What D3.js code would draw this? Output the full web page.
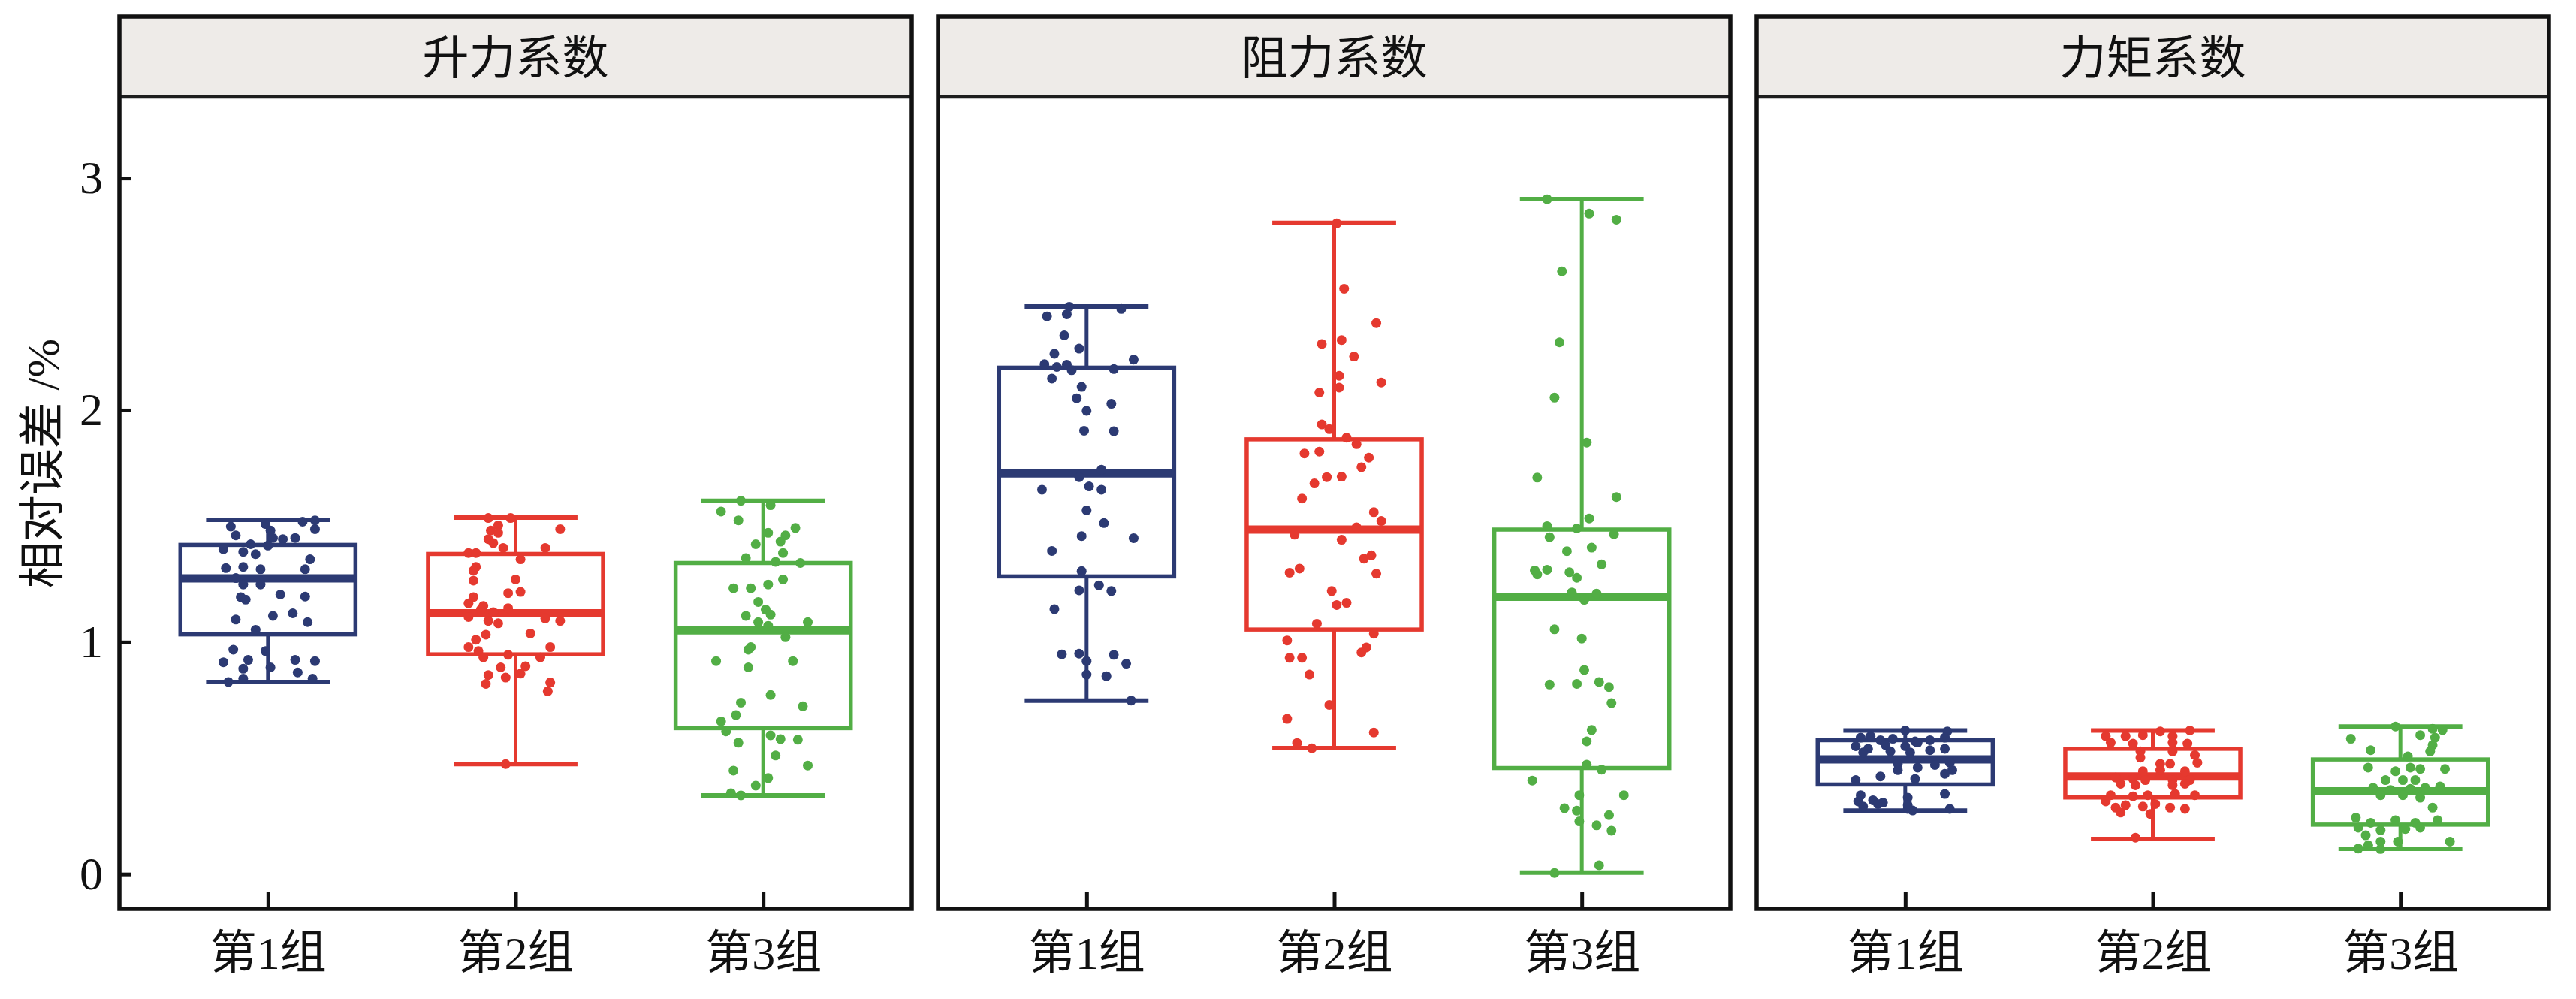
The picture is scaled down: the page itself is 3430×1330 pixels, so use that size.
<!DOCTYPE html>
<html>
<head>
<meta charset="utf-8">
<script src="https://cdn.jsdelivr.net/npm/d3@7"></script>
<style>
  html, body { margin: 0; padding: 0; background: #ffffff; }
  svg { display: block; }
</style>
</head>
<body>
<svg id="chart" width="3430" height="1330"></svg>
<script>
// ---------------- DATA ----------------
const panelTitles = ["升力系数", "阻力系数", "力矩系数"];
const groups = ["第1组", "第2组", "第3组"];
const yTicks = [0, 1, 2, 3];
const yLabel = "相对误差 /%";

// box statistics per panel: [min, q1, median, q3, max] for 第1组, 第2组, 第3组
const liftStats   = [[0.828, 1.033, 1.275, 1.419, 1.527], [0.474, 0.947, 1.124, 1.380, 1.537], [0.339, 0.629, 1.050, 1.341, 1.609]];
const dragStats   = [[0.748, 1.283, 1.727, 2.183, 2.447], [0.543, 1.054, 1.485, 1.874, 2.807], [0.006, 0.457, 1.195, 1.485, 2.910]];
const momentStats = [[0.273, 0.386, 0.494, 0.577, 0.619], [0.151, 0.330, 0.421, 0.540, 0.619], [0.109, 0.213, 0.357, 0.494, 0.636]];

// points: [value, horizontal jitter as a fraction of the category step]
const liftG1 = [[1.498,-0.15],[1.460,-0.13],[1.509,-0.01],[1.481,0.01],[1.449,0.02],[1.444,0.06],[1.449,0.11],[1.519,0.14],[1.525,0.19],[1.487,0.19],[1.422,-0.07],[1.400,-0.18],[1.389,-0.10],[1.379,-0.05],[1.416,0.00],[1.357,0.17],[1.319,-0.17],[1.324,-0.10],[1.314,-0.03],[1.314,0.15],[1.276,-0.13],[1.248,-0.10],[1.248,-0.03],[1.194,-0.11],[1.183,-0.09],[1.205,0.05],[1.196,0.15],[1.097,-0.13],[1.113,0.02],[1.124,0.10],[1.086,0.16],[1.053,-0.05],[0.967,-0.14],[0.961,-0.01],[0.913,-0.18],[0.923,-0.08],[0.885,-0.10],[0.891,0.01],[0.923,0.11],[0.918,0.19],[0.869,0.12],[0.828,-0.16],[0.842,-0.10],[0.842,0.18]];
const liftG2 = [[1.535,-0.11],[1.535,-0.02],[1.503,-0.07],[1.481,-0.10],[1.471,-0.07],[1.444,-0.11],[1.427,-0.09],[1.487,0.18],[1.406,-0.05],[1.406,0.12],[1.384,-0.19],[1.384,-0.16],[1.357,0.02],[1.324,-0.16],[1.308,-0.17],[1.265,-0.17],[1.270,0.00],[1.211,-0.03],[1.216,0.02],[1.194,-0.17],[1.167,-0.19],[1.156,-0.13],[1.140,-0.14],[1.129,-0.09],[1.146,-0.03],[1.102,0.12],[1.091,0.18],[1.108,-0.19],[1.091,-0.11],[1.081,-0.07],[1.032,-0.12],[1.010,-0.16],[1.037,0.06],[0.978,-0.19],[0.961,-0.15],[0.934,-0.13],[0.945,-0.03],[0.934,0.10],[0.978,0.14],[0.891,-0.06],[0.896,0.04],[0.858,-0.11],[0.847,-0.04],[0.864,0.02],[0.820,-0.12],[0.826,0.14],[0.788,0.13],[0.474,-0.04]];
const liftG3 = [[1.609,-0.09],[1.590,0.03],[1.563,-0.17],[1.525,-0.10],[1.492,0.13],[1.471,0.02],[1.460,0.09],[1.433,0.07],[1.422,-0.03],[1.384,0.08],[1.362,-0.07],[1.346,0.05],[1.341,0.15],[1.270,0.08],[1.232,-0.12],[1.232,-0.05],[1.248,0.02],[1.173,-0.02],[1.140,0.01],[1.118,0.03],[1.113,-0.07],[1.086,-0.02],[1.086,0.18],[1.070,0.02],[1.021,0.09],[0.967,-0.06],[0.978,-0.05],[0.918,-0.19],[0.918,0.12],[0.891,-0.06],[0.772,0.03],[0.739,-0.09],[0.723,0.16],[0.685,-0.11],[0.658,-0.17],[0.615,-0.15],[0.598,0.03],[0.582,0.07],[0.579,0.14],[0.566,-0.10],[0.511,0.05],[0.468,0.18],[0.446,-0.12],[0.414,0.02],[0.381,-0.03],[0.349,-0.13],[0.339,-0.09]];

const dragG1 = [[2.445,-0.07],[2.436,0.14],[2.404,-0.16],[2.413,-0.08],[2.322,-0.09],[2.265,-0.03],[2.243,-0.13],[2.218,0.19],[2.198,-0.17],[2.186,-0.12],[2.196,-0.08],[2.172,-0.06],[2.177,0.11],[2.136,-0.14],[2.100,-0.02],[2.051,-0.04],[2.027,0.10],[1.997,0.00],[1.911,-0.01],[1.909,0.11],[1.743,0.06],[1.711,-0.03],[1.657,-0.18],[1.671,0.01],[1.657,0.06],[1.568,0.00],[1.513,0.07],[1.457,-0.02],[1.448,0.19],[1.393,-0.14],[1.306,-0.02],[1.245,0.05],[1.223,-0.03],[1.220,0.10],[1.142,-0.13],[0.947,-0.10],[0.950,-0.03],[0.918,0.00],[0.945,0.11],[0.907,0.16],[0.860,0.00],[0.853,0.08],[0.748,0.18]];
const dragG2 = [[2.805,0.01],[2.523,0.04],[2.375,0.17],[2.285,-0.05],[2.302,0.03],[2.231,0.08],[2.148,0.02],[2.097,0.02],[2.076,-0.06],[2.119,0.19],[1.938,-0.05],[1.918,-0.02],[1.881,0.05],[1.853,0.09],[1.813,-0.12],[1.821,-0.06],[1.795,0.14],[1.754,0.11],[1.711,-0.03],[1.684,-0.08],[1.713,0.03],[1.619,-0.13],[1.560,0.16],[1.522,0.19],[1.495,0.09],[1.463,-0.16],[1.441,0.03],[1.360,0.12],[1.374,0.15],[1.299,-0.18],[1.317,-0.14],[1.295,0.17],[1.220,-0.01],[1.160,0.01],[1.169,0.05],[1.079,-0.07],[1.036,0.16],[1.007,-0.19],[0.977,0.13],[0.955,0.11],[0.932,-0.18],[0.932,-0.13],[0.860,-0.10],[0.729,-0.02],[0.669,-0.19],[0.610,0.16],[0.565,-0.15],[0.542,-0.09]];
const dragG3 = [[2.909,-0.14],[2.847,0.03],[2.821,0.14],[2.598,-0.08],[2.292,-0.09],[2.054,-0.11],[1.860,0.02],[1.709,-0.18],[1.625,0.14],[1.533,0.03],[1.500,-0.14],[1.490,-0.02],[1.465,0.13],[1.452,-0.13],[1.392,-0.06],[1.407,0.04],[1.335,0.08],[1.309,-0.19],[1.312,-0.14],[1.292,-0.18],[1.301,-0.05],[1.277,-0.02],[1.214,-0.04],[1.209,0.06],[1.182,0.01],[1.055,-0.11],[1.015,0.00],[0.880,0.01],[0.817,-0.13],[0.820,-0.02],[0.828,0.07],[0.806,0.11],[0.737,0.12],[0.621,0.04],[0.572,0.02],[0.472,0.02],[0.450,0.08],[0.403,-0.20],[0.340,-0.01],[0.340,0.17],[0.284,-0.07],[0.273,-0.02],[0.254,0.11],[0.227,-0.01],[0.210,0.06],[0.187,0.12],[0.038,0.07],[0.005,-0.11]];

const momentG1 = [[0.619,0.00],[0.615,0.17],[0.588,-0.18],[0.594,-0.14],[0.577,-0.10],[0.583,-0.05],[0.572,0.04],[0.577,0.10],[0.588,0.16],[0.551,-0.20],[0.540,-0.15],[0.556,-0.08],[0.551,0.00],[0.567,0.05],[0.540,0.16],[0.524,-0.17],[0.529,-0.06],[0.524,0.02],[0.534,0.10],[0.475,-0.03],[0.459,0.05],[0.470,0.12],[0.480,0.18],[0.448,0.19],[0.448,-0.03],[0.421,-0.10],[0.405,-0.20],[0.410,0.04],[0.432,0.16],[0.340,-0.18],[0.313,-0.19],[0.318,-0.13],[0.308,-0.09],[0.329,0.01],[0.345,0.16],[0.291,-0.17],[0.281,0.01],[0.274,0.03],[0.281,0.18],[0.297,0.01],[0.302,-0.11]];
const momentG2 = [[0.615,0.03],[0.619,0.15],[0.594,-0.19],[0.594,-0.11],[0.599,-0.04],[0.594,0.08],[0.567,-0.17],[0.562,-0.08],[0.567,0.08],[0.562,0.14],[0.529,-0.05],[0.529,0.08],[0.513,0.17],[0.502,-0.05],[0.475,0.03],[0.475,0.07],[0.480,0.18],[0.443,-0.04],[0.448,0.03],[0.443,0.13],[0.416,-0.15],[0.410,-0.08],[0.405,-0.03],[0.405,0.08],[0.405,0.15],[0.389,-0.13],[0.383,-0.07],[0.383,0.08],[0.389,0.13],[0.340,-0.17],[0.335,-0.08],[0.340,-0.02],[0.345,0.09],[0.340,0.17],[0.313,-0.19],[0.286,-0.15],[0.297,-0.11],[0.291,-0.04],[0.302,0.01],[0.286,0.07],[0.281,0.13],[0.265,-0.13],[0.259,-0.01],[0.157,-0.07]];
const momentG3 = [[0.636,-0.02],[0.626,0.13],[0.621,0.17],[0.583,-0.20],[0.599,0.08],[0.588,0.14],[0.556,0.13],[0.534,-0.12],[0.529,0.12],[0.507,0.03],[0.459,-0.13],[0.443,-0.02],[0.459,0.04],[0.453,0.08],[0.453,0.18],[0.405,-0.06],[0.405,0.01],[0.405,0.06],[0.372,-0.11],[0.362,-0.04],[0.367,0.04],[0.372,0.10],[0.378,0.16],[0.340,-0.08],[0.340,0.01],[0.329,0.08],[0.286,0.13],[0.243,-0.18],[0.221,-0.12],[0.232,-0.02],[0.221,0.06],[0.232,0.15],[0.200,-0.17],[0.189,-0.08],[0.194,0.02],[0.200,0.08],[0.167,-0.14],[0.140,-0.08],[0.140,-0.01],[0.124,-0.13],[0.108,-0.08],[0.140,0.20],[0.110,-0.17]];

const groupColors = ["#2c3a73", "#e5392f", "#52ae45"];

// ---------------- LAYOUT ----------------
const panels = [
  { title: panelTitles[0], stats: liftStats,   points: [liftG1, liftG2, liftG3] },
  { title: panelTitles[1], stats: dragStats,   points: [dragG1, dragG2, dragG3] },
  { title: panelTitles[2], stats: momentStats, points: [momentG1, momentG2, momentG3] }
];
const left0 = 159, panelW = 1055, gap = 35;
const top0 = 22, stripH = 107, bottom = 1210;
const plotTop = top0 + stripH;

const svg = d3.select("#chart");
const FONT = "'Liberation Serif', 'Times New Roman', 'Noto Sans CJK SC', serif";

const y = d3.scaleLinear().domain([-0.15, 3.35]).range([bottom, plotTop]);

panels.forEach((p, pi) => {
  const x0 = left0 + pi * (panelW + gap);
  const g = svg.append("g").attr("transform", `translate(${x0},0)`);
  const x = d3.scalePoint().domain(groups).range([0, panelW]).padding(0.6);
  const step = x.step();
  const boxW = step * 0.707, capW = step * 0.5;

  // strip
  g.append("rect").attr("x", 0).attr("y", top0).attr("width", panelW).attr("height", stripH)
    .attr("fill", "#eeebe8");
  g.append("line").attr("x1", 0).attr("x2", panelW).attr("y1", plotTop).attr("y2", plotTop)
    .attr("stroke", "#1e1e1e").attr("stroke-width", 4.5);
  g.append("text").attr("x", panelW / 2).attr("y", top0 + stripH / 2 + 2)
    .attr("text-anchor", "middle").attr("dominant-baseline", "central")
    .attr("font-family", FONT).attr("font-size", 62).attr("fill", "#111")
    .text(p.title);

  // boxes
  groups.forEach((grp, gi) => {
    const [mn, q1, md, q3, mx] = p.stats[gi];
    const cx = x(grp);
    const col = groupColors[gi];
    const bg = g.append("g");
    bg.append("line").attr("x1", cx).attr("x2", cx).attr("y1", y(q3)).attr("y2", y(mx))
      .attr("stroke", col).attr("stroke-width", 5);
    bg.append("line").attr("x1", cx).attr("x2", cx).attr("y1", y(q1)).attr("y2", y(mn))
      .attr("stroke", col).attr("stroke-width", 5);
    bg.append("line").attr("x1", cx - capW / 2).attr("x2", cx + capW / 2).attr("y1", y(mx)).attr("y2", y(mx))
      .attr("stroke", col).attr("stroke-width", 6);
    bg.append("line").attr("x1", cx - capW / 2).attr("x2", cx + capW / 2).attr("y1", y(mn)).attr("y2", y(mn))
      .attr("stroke", col).attr("stroke-width", 6);
    bg.append("rect").attr("x", cx - boxW / 2).attr("y", y(q3)).attr("width", boxW).attr("height", y(q1) - y(q3))
      .attr("fill", "none").attr("stroke", col).attr("stroke-width", 5.5);
    bg.append("line").attr("x1", cx - boxW / 2).attr("x2", cx + boxW / 2).attr("y1", y(md)).attr("y2", y(md))
      .attr("stroke", col).attr("stroke-width", 11);
    // points
    g.append("g").selectAll("circle").data(p.points[gi]).join("circle")
      .attr("cx", d => cx + d[1] * step)
      .attr("cy", d => y(d[0]))
      .attr("r", 6.5)
      .attr("fill", col);
  });

  // x axis (inward ticks)
  const xa = g.append("g").attr("transform", `translate(0,${bottom})`)
    .call(d3.axisBottom(x).tickSize(-22).tickPadding(36));
  xa.select(".domain").remove();
  xa.selectAll(".tick line").attr("stroke", "#111").attr("stroke-width", 5);
  xa.selectAll(".tick text").attr("font-family", FONT).attr("font-size", 62).attr("fill", "#111");

  // y axis only on first panel
  if (pi === 0) {
    const ya = g.append("g").call(d3.axisLeft(y).tickValues(yTicks).tickFormat(d3.format("d")).tickSize(-15).tickPadding(22));
    ya.select(".domain").remove();
    ya.selectAll(".tick line").attr("stroke", "#111").attr("stroke-width", 5);
    ya.selectAll(".tick text").attr("font-family", FONT).attr("font-size", 62).attr("fill", "#111");
  }

  // border
  g.append("rect").attr("x", 0).attr("y", top0).attr("width", panelW).attr("height", bottom - top0)
    .attr("fill", "none").attr("stroke", "#111").attr("stroke-width", 5.5);
});

// y label
svg.append("text")
  .attr("transform", `translate(57,617) rotate(-90)`)
  .attr("text-anchor", "middle").attr("dominant-baseline", "central")
  .attr("font-family", FONT).attr("font-size", 62).attr("fill", "#111")
  .text(yLabel);
</script>
</body>
</html>
